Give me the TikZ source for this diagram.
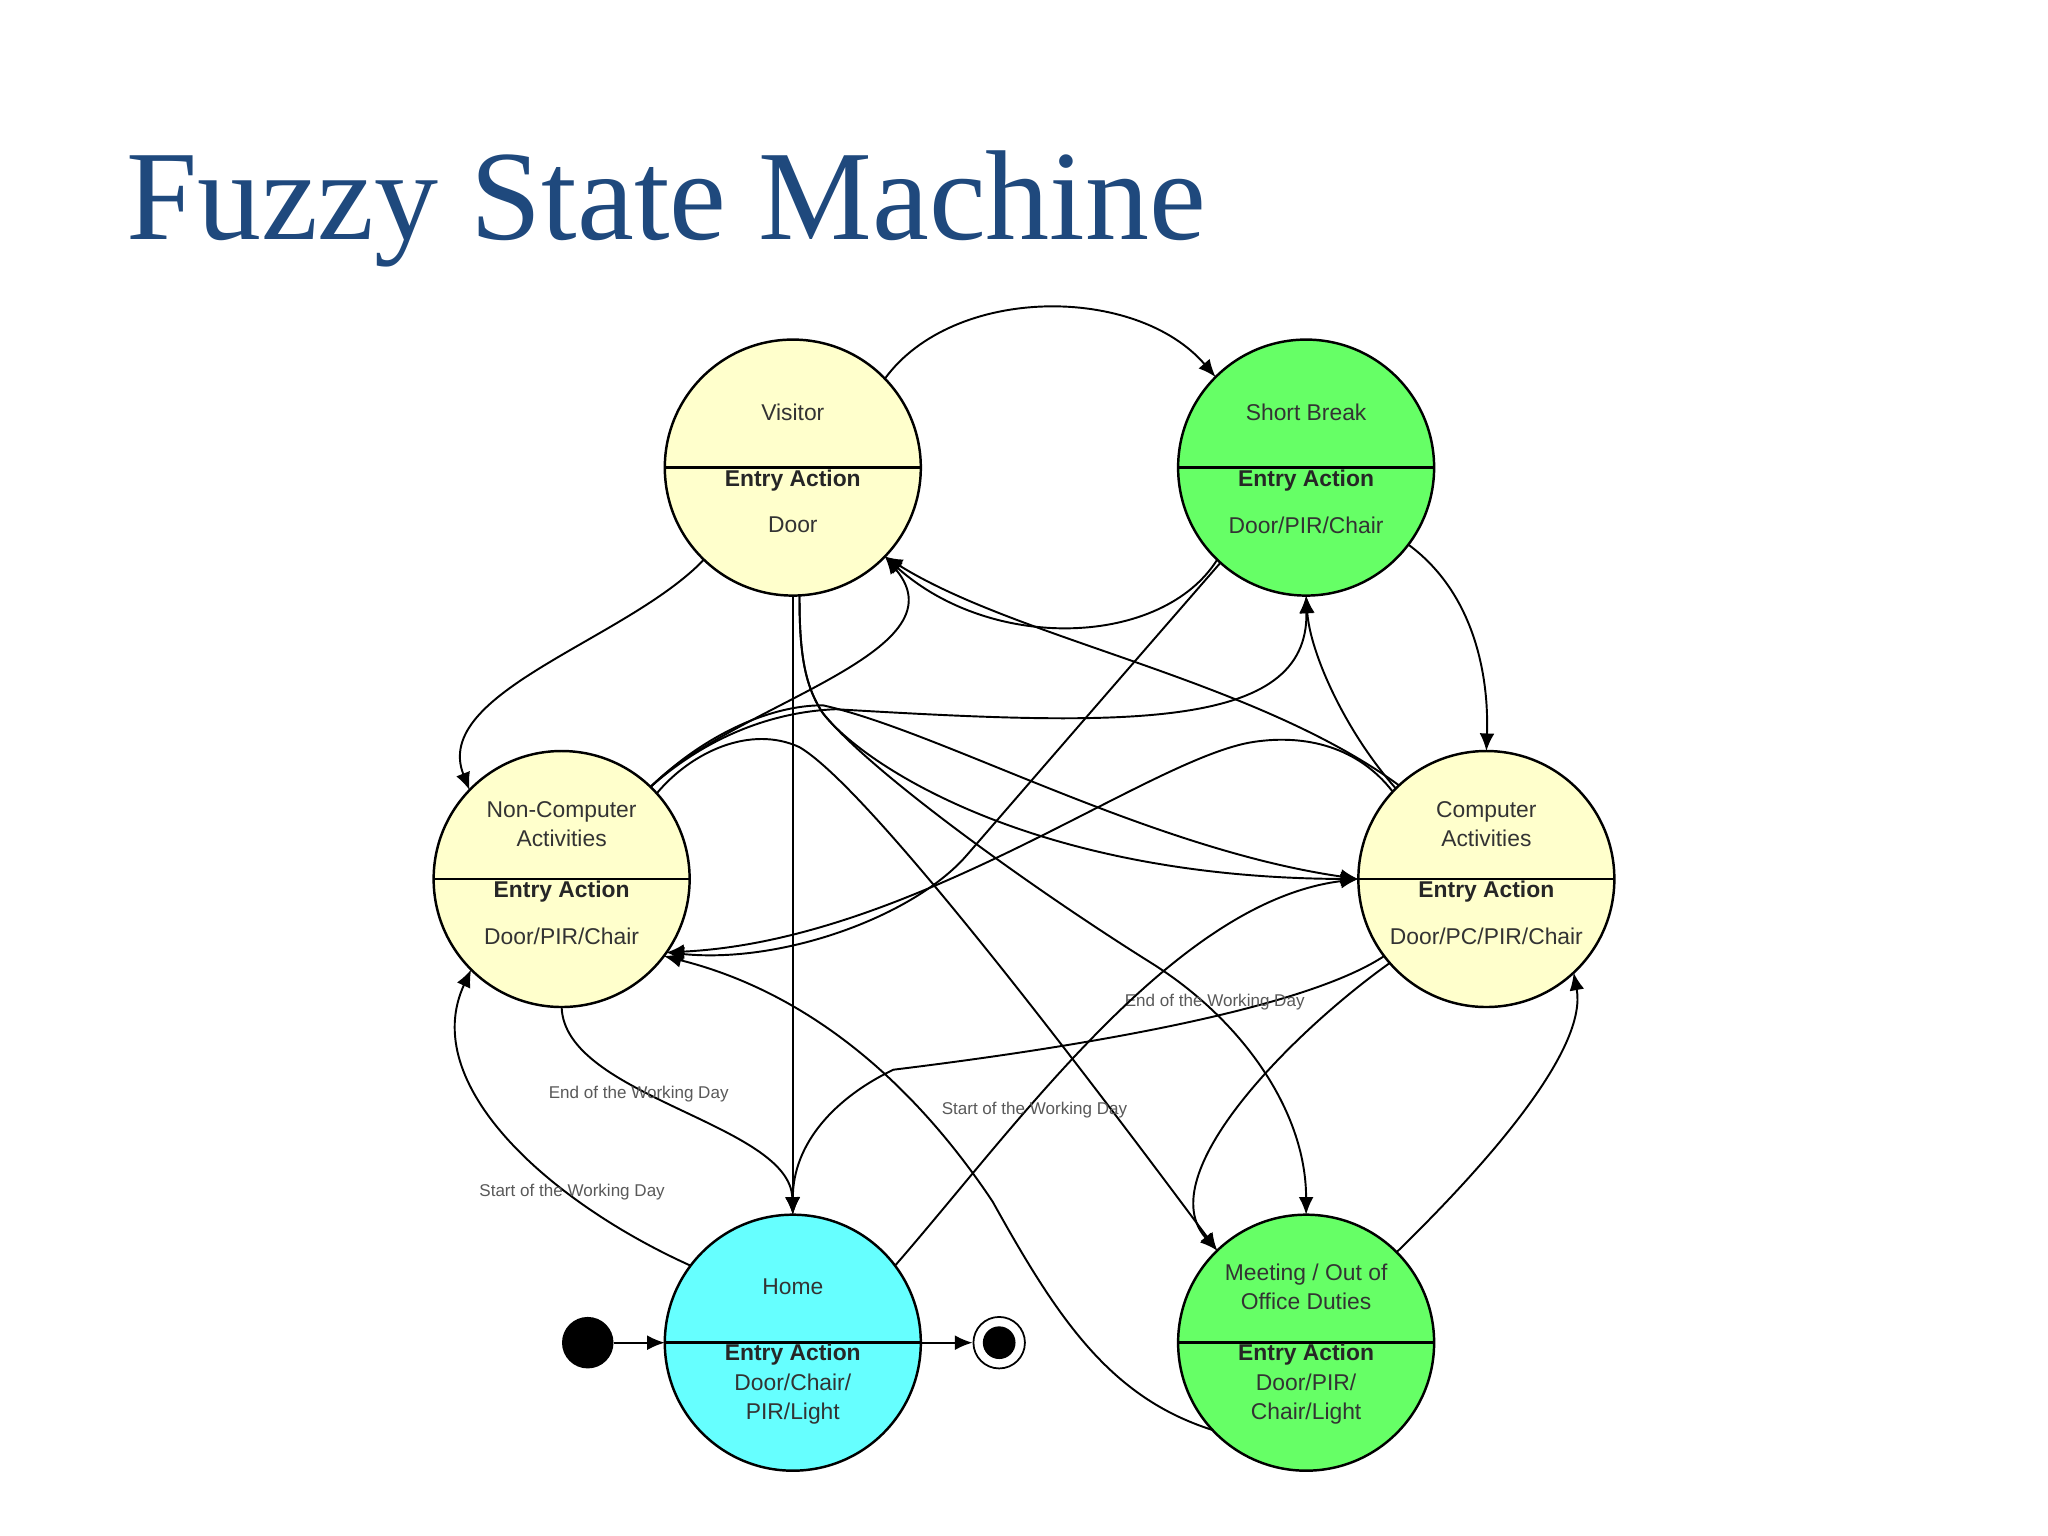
\documentclass[tikz,border=0pt]{standalone}
\usepackage{fontspec}
\setmainfont{Liberation Sans}
\newfontfamily\titlefont{Liberation Serif}
\usetikzlibrary{arrows.meta,calc,positioning}

\definecolor{idle}{HTML}{FFFFCC}
\definecolor{away}{HTML}{66FF66}
\definecolor{offsite}{HTML}{66FFFF}
\definecolor{slideblue}{HTML}{1F497D}

\begin{document}
\begin{tikzpicture}[x=0.01306cm,y=-0.01306cm,thin,>={Latex[length=5pt,width=4.2pt]},
    phase/.style={circle,draw,line width=0.7pt,minimum size=2.56cm,inner sep=0pt,outer sep=0pt},
    heading/.style={font=\fontsize{6.5}{8.2}\selectfont,text=black!80,align=center},
    entry/.style={font=\fontsize{6.5}{8.2}\selectfont\bfseries,text=black!85},
    trigger/.style={font=\fontsize{4.85}{5.5}\selectfont,text=black!65},
    post/.style={->,line width=0.55pt}]

\path [use as bounding box, fill=white] (0,0) rectangle (1568,1176);

\node [anchor=base west, inner sep=0pt, font=\titlefont\fontsize{36.4}{44}\selectfont, text=slideblue] (title) at (96,183) {Fuzzy State Machine};

% states
\node [phase, fill=idle] (visitor) at (607,358) {};
\draw [line width=0.7pt] (visitor.west) -- (visitor.east);
\node [heading] (visitor-name) at ($(visitor)+(0,-42)$) {Visitor};
\node [entry] (visitor-entry) at ($(visitor)+(0,10)$) {Entry Action};
\node [heading] (visitor-act) at ($(visitor)+(0,44)$) {Door};

\node [phase, fill=away] (break) at (1000,358) {};
\draw [line width=0.7pt] (break.west) -- (break.east);
\node [heading] (break-name) at ($(break)+(0,-42)$) {Short Break};
\node [entry] (break-entry) at ($(break)+(0,10)$) {Entry Action};
\node [heading] (break-act) at ($(break)+(0,44)$) {Door/PIR/Chair};

\node [phase, fill=idle] (noncomp) at (430,673) {};
\draw [line width=0.7pt] (noncomp.west) -- (noncomp.east);
\node [heading] (noncomp-name) at ($(noncomp)+(0,-42)$) {Non-Computer\\Activities};
\node [entry] (noncomp-entry) at ($(noncomp)+(0,10)$) {Entry Action};
\node [heading] (noncomp-act) at ($(noncomp)+(0,44)$) {Door/PIR/Chair};

\node [phase, fill=idle] (comp) at (1138,673) {};
\draw [line width=0.7pt] (comp.west) -- (comp.east);
\node [heading] (comp-name) at ($(comp)+(0,-42)$) {Computer\\Activities};
\node [entry] (comp-entry) at ($(comp)+(0,10)$) {Entry Action};
\node [heading] (comp-act) at ($(comp)+(0,44)$) {Door/PC/PIR/Chair};

\node [phase, fill=offsite] (home) at (607,1028) {};
\draw [line width=0.7pt] (home.west) -- (home.east);
\node [heading] (home-name) at ($(home)+(0,-43)$) {Home};
\node [entry] (home-entry) at ($(home)+(0,9)$) {Entry Action};
\node [heading] (home-act) at ($(home)+(0,43)$) {Door/Chair/\\PIR/Light};

\node [phase, fill=away] (meeting) at (1000,1028) {};
\draw [line width=0.7pt] (meeting.west) -- (meeting.east);
\node [heading] (meeting-name) at ($(meeting)+(0,-43)$) {Meeting / Out of\\Office Duties};
\node [entry] (meeting-entry) at ($(meeting)+(0,9)$) {Entry Action};
\node [heading] (meeting-act) at ($(meeting)+(0,43)$) {Door/PIR/\\Chair/Light};

% initial and final
\node [circle, fill=black, minimum size=0.515cm, inner sep=0pt] (start) at (450,1028) {};
\node [circle, draw, line width=0.5pt, minimum size=0.515cm, inner sep=0pt] (stop) at (765,1028) {};
\node [circle, fill=black, minimum size=0.327cm, inner sep=0pt] (stop-dot) at (stop) {};
\draw [post] (start) -- (home.west);
\draw [post] (home.east) -- (stop);

% from visitor
\draw [post] (visitor.44) .. controls (730,218) and (870,218) .. (break.135);
\draw [post] (visitor.226) .. controls (480,490) and (330,530) .. (noncomp.136);
\draw [post] (visitor.south) -- (home.north);
\draw [post] (visitor.273) .. controls (612,500) and (616,525) .. (630,546)
    .. controls (660,585) and (790,672) .. (comp.west);
\draw [post] (visitor.273) .. controls (612,500) and (616,525) .. (630,546)
    .. controls (665,590) and (790,680) .. (881,737)
    .. controls (950,780) and (1000,850) .. (meeting.north);

% from short break
\draw [post] (break.226) .. controls (890,495) and (760,500) .. (visitor.316);
\draw [post] (break.323) .. controls (1130,455) and (1140,520) .. (comp.north);
\draw [post] (break.228) .. controls (869,506) and (805,580) .. (740,655)
    .. controls (700,701) and (600,738) .. (noncomp.325);

% from non-computer activities
\draw [post] (noncomp.46) .. controls (560,540) and (740,500) .. (visitor.316);
\draw [post] (noncomp.46) .. controls (540,565) and (590,545) .. (640,543)
    .. controls (860,556) and (1002,560) .. (break.south);
\draw [post] (noncomp.46) .. controls (540,562) and (590,540) .. (630,540)
    .. controls (720,560) and (880,650) .. (comp.west);
\draw [post] (noncomp.42) .. controls (530,575) and (575,555) .. (612,572)
    .. controls (660,600) and (800,780) .. (meeting.134);
\draw [post] (noncomp.south) .. controls (432,840) and (605,860) .. (home.north);
\node [trigger] (end-nc) at (489,838) {End of the Working Day};

% from computer activities
\draw [post] (comp.135) .. controls (1030,560) and (1003,500) .. (break.south);
\draw [post] (comp.133) .. controls (960,520) and (780,490) .. (visitor.316);
\draw [post] (comp.137) .. controls (1040,572) and (1000,562) .. (960,568)
    .. controls (880,580) and (700,720) .. (noncomp.325);
\draw [post] (comp.217) .. controls (1010,765) and (880,795) .. (684,819)
    .. controls (640,840) and (607,875) .. (home.north);
\node [trigger] (end-ca) at (930,767) {End of the Working Day};
\draw [post] (comp.221) .. controls (990,790) and (880,900) .. (meeting.134);

% from home
\draw [post] (home.143) .. controls (420,920) and (320,830) .. (noncomp.225);
\node [trigger] (start-nc) at (438,913) {Start of the Working Day};
\draw [post] (home.37) .. controls (780,860) and (900,690) .. (comp.west);
\node [trigger] (start-ca) at (792,850) {Start of the Working Day};

% from meeting
\draw [post] (meeting.223) .. controls (850,1070) and (810,1010) .. (760,920)
    .. controls (700,830) and (620,760) .. (noncomp.323);
\draw [post] (meeting.45) .. controls (1150,880) and (1215,800) .. (comp.313);

\end{tikzpicture}
\end{document}
